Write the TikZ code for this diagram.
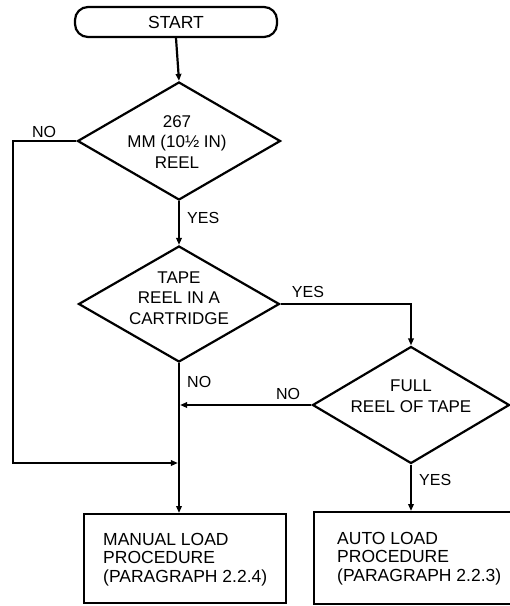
\documentclass[tikz,border=0pt]{standalone}
\usepackage{fontspec}
\setmainfont{Liberation Sans}
\usetikzlibrary{shapes.geometric,arrows.meta}
\tikzset{
  x=1pt, y=1pt,
  flow/.style={line width=2.2pt, -{Triangle[length=7pt,width=5.5pt]}},
  startbox/.style={draw, line width=2.2pt, rounded corners=13pt, minimum width=202pt, minimum height=30pt, inner sep=0pt,
    font=\fontsize{17.5}{20}\selectfont},
  decision/.style={draw, diamond, line width=2.2pt, inner sep=0pt},
  dtext/.style={align=center, inner sep=0pt, font=\fontsize{17}{20.5}\selectfont},
  procbox/.style={draw, line width=2.2pt, anchor=north west, inner sep=0pt},
  ptext/.style={align=left, anchor=north west, inner sep=0pt, font=\fontsize{17.5}{18.5}\selectfont},
  lbl/.style={inner sep=0pt, font=\fontsize{16}{19}\selectfont},
}
\begin{document}
\begin{tikzpicture}
\useasboundingbox (0,0) rectangle (510,-606);
\clip (0,0) rectangle (510,-606);

% nodes
\node[startbox] (start) at (176,-22) {START};

\node[decision, minimum width=203pt, minimum height=118pt] (d1) at (179,-141) {};
\node[dtext] (d1t) at (177,-142) {267\\MM (10½ IN)\\REEL};

\node[decision, minimum width=201pt, minimum height=116pt] (d2) at (179,-304) {};
\node[dtext] (d2t) at (179,-298) {TAPE\\REEL IN A\\CARTRIDGE};

\node[decision, minimum width=197pt, minimum height=117pt] (d3) at (411,-405) {};
\node[dtext] (d3t) at (411,-396) {FULL\\REEL OF TAPE};

\node[procbox, minimum width=202pt, minimum height=89pt] (manual) at (83,-513) {};
\node[ptext] (manualt) at (103,-533) {MANUAL LOAD\\PROCEDURE\\(PARAGRAPH 2.2.4)};
\node[procbox, minimum width=215pt, minimum height=92pt] (auto) at (313,-511) {};
\node[ptext] (autot) at (337,-532) {AUTO LOAD\\PROCEDURE\\(PARAGRAPH 2.2.3)};

% junction coordinates on the main vertical line
\coordinate (jno) at (179,-405);
\coordinate (jleft) at (179,-463);
\coordinate (cleft) at (13,-141);
\coordinate (cleftb) at (13,-463);
\coordinate (cright) at (411,-304);

% labels
\node[lbl, anchor=base] (no1) at (44,-137) {NO};
\node[lbl, anchor=base west] (yes1) at (187,-223) {YES};
\node[lbl, anchor=base] (yes2) at (308,-297) {YES};
\node[lbl, anchor=base west] (no2) at (187,-387) {NO};
\node[lbl, anchor=base] (no3) at (288,-399) {NO};
\node[lbl, anchor=base west] (yes3) at (419,-485) {YES};

% connectors
\draw[flow] (start.south) -- (d1.north);
\draw[flow] (d1.south) -- (d2.north);
\draw[flow, shorten >=1.1pt] (d1.west) -- (cleft) -- (cleftb) -- (jleft);
\draw[flow] (d2.east) -- (cright) -- (d3.north);
\draw[flow, shorten >=1.1pt] (d3.west) -- (jno);
\draw[flow] (d2.south) -- (d2.south |- manual.north);
\draw[flow] (d3.south) -- (d3.south |- auto.north);
\end{tikzpicture}
\end{document}
